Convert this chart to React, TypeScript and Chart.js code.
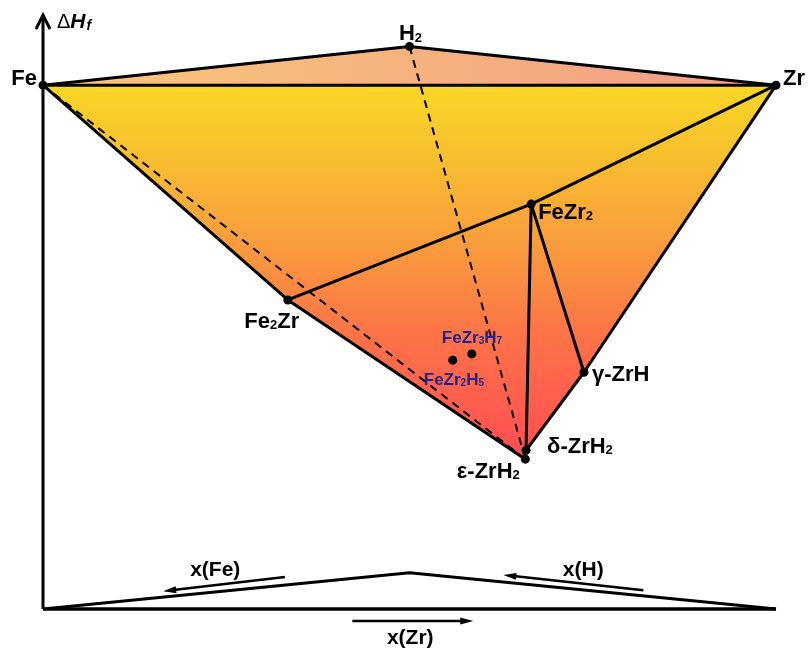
import React, { useEffect, useRef } from 'react';
import { Chart, registerables } from 'chart.js';

Chart.register(...registerables);

// ---- data (schematic convex hull, x = composition axis, y = ΔHf) ----
const vertexNames = ['Fe', 'H2', 'Zr', 'FeZr2', 'Fe2Zr', 'γ-ZrH', 'δ-ZrH2', 'ε-ZrH2', 'FeZr3H7', 'FeZr2H5'];
const vertexX = [0, 50, 100, 66.6, 33.4, 73.8, 65.9, 65.8, 58.5, 55.9];
const vertexY = [0, 7.4, 0, -22.7, -41.0, -54.8, -69.7, -71.4, -51.3, -52.5];
const vertexLabels = ['Fe', 'H_2', 'Zr', 'FeZr_2', 'Fe_2Zr', 'γ-ZrH', 'δ-ZrH_2', 'ε-ZrH_2', 'FeZr_3H_7', 'FeZr_2H_5'];

const topFace = ['Fe', 'H2', 'Zr'];
const lowerFace = ['Fe', 'Zr', 'γ-ZrH', 'δ-ZrH2', 'ε-ZrH2', 'Fe2Zr'];

const solidEdges = [
  ['Fe', 'H2'], ['H2', 'Zr'], ['Fe', 'Zr'],
  ['Fe', 'Fe2Zr'], ['Fe2Zr', 'ε-ZrH2'], ['Fe2Zr', 'FeZr2'],
  ['FeZr2', 'Zr'], ['Zr', 'γ-ZrH'], ['γ-ZrH', 'δ-ZrH2'], ['δ-ZrH2', 'ε-ZrH2'],
  ['FeZr2', 'δ-ZrH2'], ['FeZr2', 'γ-ZrH'],
];
const dashedEdges = [['Fe', 'ε-ZrH2'], ['H2', 'ε-ZrH2']];

// composition base triangle (projection)
const baseX = [0, 50, 100];
const baseY = [-100, -93.1, -100];
const axisMinY = -100;
const axisMaxY = 13.4;

// direction arrows
const dirLabels = ['x(Fe)', 'x(H)', 'x(Zr)'];
const dirTail = [[33.0, -93.9], [81.9, -96.4], [42.2, -102.3]];
const dirHead = [[16.4, -96.6], [62.8, -93.5], [58.7, -102.3]];
const dirLabelAt = [[23.5, -93.7], [73.7, -93.7], [50.1, -106.7]];

// ---- helpers ----
const idx = (n: string) => vertexNames.indexOf(n);
const pt = (n: string) => ({ x: vertexX[idx(n)], y: vertexY[idx(n)] });

const FONT = '"Liberation Sans", Arial, sans-serif';

function parseRich(s: string) {
  const parts: { t: string; sub: boolean }[] = [];
  let buf = '';
  for (let i = 0; i < s.length; i++) {
    if (s[i] === '_' && i + 1 < s.length) {
      if (buf) parts.push({ t: buf, sub: false });
      buf = '';
      parts.push({ t: s[i + 1], sub: true });
      i++;
    } else buf += s[i];
  }
  if (buf) parts.push({ t: buf, sub: false });
  return parts;
}

function drawRich(ctx: CanvasRenderingContext2D, s: string, x: number, y: number, size: number, align: string, color: string) {
  const parts = parseRich(s).map((p) => ({ ...p, w: 0 }));
  const sub = Math.round(size * 0.6);
  let w = 0;
  for (const p of parts) {
    ctx.font = `bold ${p.sub ? sub : size}px ${FONT}`;
    p.w = ctx.measureText(p.t).width;
    w += p.w;
  }
  let cx = align === 'left' ? x : align === 'right' ? x - w : x - w / 2;
  ctx.textAlign = 'left';
  ctx.textBaseline = 'alphabetic';
  ctx.fillStyle = color;
  for (const p of parts) {
    ctx.font = `bold ${p.sub ? sub : size}px ${FONT}`;
    ctx.fillText(p.t, cx, p.sub ? y + size * 0.05 : y);
    cx += p.w;
  }
}

// label placement (pixel offsets from the vertex)
const labelStyle: Record<string, { dx: number; dy: number; align: string; size: number; color: string }> = {
  'Fe': { dx: -6, dy: 0, align: 'right', size: 22, color: '#000' },
  'H2': { dx: 1, dy: -6, align: 'center', size: 22, color: '#000' },
  'Zr': { dx: 7, dy: 0, align: 'left', size: 22, color: '#000' },
  'FeZr2': { dx: 7, dy: 15, align: 'left', size: 22, color: '#000' },
  'Fe2Zr': { dx: -16, dy: 28, align: 'center', size: 22, color: '#000' },
  'γ-ZrH': { dx: 8, dy: 9, align: 'left', size: 22, color: '#000' },
  'δ-ZrH2': { dx: 21, dy: 3, align: 'left', size: 22, color: '#000' },
  'ε-ZrH2': { dx: -37, dy: 19, align: 'center', size: 22, color: '#000' },
  'FeZr3H7': { dx: -30, dy: -11, align: 'left', size: 17, color: '#23238E' },
  'FeZr2H5': { dx: -29, dy: 25, align: 'left', size: 17, color: '#23238E' },
};

const facePlugin = {
  id: 'faces',
  beforeDatasetsDraw(chart: any) {
    const { ctx, scales } = chart;
    const P = (n: string) => [scales.x.getPixelForValue(pt(n).x), scales.y.getPixelForValue(pt(n).y)];
    ctx.save();
    // top face
    const tp = topFace.map(P);
    const g1 = ctx.createLinearGradient(tp[0][0], 0, tp[2][0], 0);
    g1.addColorStop(0, '#F8C87A');
    g1.addColorStop(0.5, '#F6B27E');
    g1.addColorStop(1, '#F29C86');
    ctx.fillStyle = g1;
    ctx.beginPath();
    tp.forEach((p, i) => (i ? ctx.lineTo(p[0], p[1]) : ctx.moveTo(p[0], p[1])));
    ctx.closePath();
    ctx.fill();
    // lower face
    const lp = lowerFace.map(P);
    const yTop = P('Fe')[1];
    const yBot = P('ε-ZrH2')[1];
    const g2 = ctx.createLinearGradient(0, yTop, 0, yBot);
    g2.addColorStop(0, '#FAD626');
    g2.addColorStop(0.17, '#F8C22E');
    g2.addColorStop(0.44, '#F99A3E');
    g2.addColorStop(0.66, '#FC7447');
    g2.addColorStop(0.9, '#FF5850');
    g2.addColorStop(1, '#FF4E52');
    ctx.fillStyle = g2;
    ctx.beginPath();
    lp.forEach((p, i) => (i ? ctx.lineTo(p[0], p[1]) : ctx.moveTo(p[0], p[1])));
    ctx.closePath();
    ctx.fill();
    ctx.restore();
  },
};

function arrowHead(ctx: CanvasRenderingContext2D, x0: number, y0: number, x1: number, y1: number, len: number, half: number, filled: boolean) {
  const a = Math.atan2(y1 - y0, x1 - x0);
  const bx = x1 - len * Math.cos(a);
  const by = y1 - len * Math.sin(a);
  const nx = -Math.sin(a) * half;
  const ny = Math.cos(a) * half;
  ctx.beginPath();
  ctx.moveTo(bx + nx, by + ny);
  ctx.lineTo(x1, y1);
  ctx.lineTo(bx - nx, by - ny);
  if (filled) {
    ctx.closePath();
    ctx.fill();
  } else ctx.stroke();
}

const annotPlugin = {
  id: 'annot',
  afterDatasetsDraw(chart: any) {
    const { ctx, scales } = chart;
    const X = (v: number) => scales.x.getPixelForValue(v);
    const Y = (v: number) => scales.y.getPixelForValue(v);
    ctx.save();
    // y-axis arrow head
    ctx.strokeStyle = '#000';
    ctx.lineWidth = 3;
    ctx.lineCap = 'round';
    arrowHead(ctx, X(0), Y(axisMinY), X(0), Y(axisMaxY), 13, 6.5, false);
    // ΔHf title
    const tx = X(0) + 14;
    const ty = Y(axisMaxY) + 13;
    ctx.fillStyle = '#000';
    ctx.textAlign = 'left';
    ctx.textBaseline = 'alphabetic';
    ctx.font = `20px ${FONT}`;
    ctx.fillText('Δ', tx, ty);
    let w = ctx.measureText('Δ').width;
    ctx.font = `italic bold 21px ${FONT}`;
    ctx.fillText('H', tx + w, ty);
    w += ctx.measureText('H').width;
    ctx.font = `italic bold 14px ${FONT}`;
    ctx.fillText('f', tx + w + 1, ty + 2);

    // direction arrows
    ctx.lineWidth = 2.5;
    ctx.lineCap = 'butt';
    for (let i = 0; i < dirLabels.length; i++) {
      const x0 = X(dirTail[i][0]), y0 = Y(dirTail[i][1]);
      const x1 = X(dirHead[i][0]), y1 = Y(dirHead[i][1]);
      const a = Math.atan2(y1 - y0, x1 - x0);
      ctx.beginPath();
      ctx.moveTo(x0, y0);
      ctx.lineTo(x1 - 8 * Math.cos(a), y1 - 8 * Math.sin(a));
      ctx.stroke();
      arrowHead(ctx, x0, y0, x1, y1, 13, 3.5, true);
      drawRich(ctx, dirLabels[i], X(dirLabelAt[i][0]), Y(dirLabelAt[i][1]), 21, 'center', '#000');
    }

    // vertex labels
    vertexNames.forEach((n, i) => {
      const s = labelStyle[n];
      drawRich(ctx, vertexLabels[i], X(vertexX[i]) + s.dx, Y(vertexY[i]) + s.dy, s.size, s.align, s.color);
    });
    ctx.restore();
  },
};

export default function App() {
  const ref = useRef<HTMLCanvasElement>(null);
  useEffect(() => {
    if (!ref.current) return;
    const lineDs = (data: any[], width: number, dash: number[] = [], order = 2) => ({
      data,
      showLine: true,
      borderColor: '#000',
      backgroundColor: '#000',
      borderWidth: width,
      borderDash: dash,
      pointRadius: 0,
      fill: false,
      tension: 0,
      clip: false,
      order,
    });
    const datasets: any[] = [];
    // axes
    datasets.push(lineDs([{ x: 0, y: axisMinY }, { x: 0, y: axisMaxY }], 3));
    datasets.push(lineDs([{ x: 0, y: axisMinY }, { x: 100, y: axisMinY }], 3.5));
    datasets.push(lineDs(baseX.map((x, i) => ({ x, y: baseY[i] })), 3));
    // hull edges
    dashedEdges.forEach(([a, b]) => datasets.push(lineDs([pt(a), pt(b)], 2, [8, 6], 3)));
    solidEdges.forEach(([a, b]) => datasets.push(lineDs([pt(a), pt(b)], 3, [], 2)));
    // vertices
    datasets.push({
      data: vertexNames.map((n) => pt(n)),
      showLine: false,
      pointRadius: 4.5,
      pointBackgroundColor: '#000',
      pointBorderColor: '#000',
      pointBorderWidth: 0,
      clip: false,
      order: 0,
    });

    const chart = new Chart(ref.current, {
      type: 'scatter',
      data: { datasets },
      options: {
        animation: false,
        responsive: false,
        events: [],
        layout: { padding: { left: 43, right: 33, top: 15, bottom: 42 } },
        scales: {
          x: { type: 'linear', min: 0, max: 100, display: false },
          y: { type: 'linear', min: axisMinY, max: axisMaxY, display: false },
        },
        plugins: { legend: { display: false }, tooltip: { enabled: false } },
      },
      plugins: [facePlugin, annotPlugin],
    });
    return () => chart.destroy();
  }, []);
  return (
    <div style={{ position: 'absolute', left: 0, top: 0, width: 809, height: 651, background: '#fff' }}>
      <canvas ref={ref} width={809} height={651} />
    </div>
  );
}
